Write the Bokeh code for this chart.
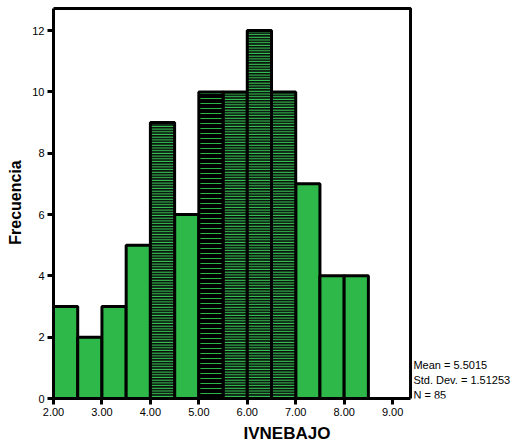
from bokeh.plotting import figure
from bokeh.models import ColumnDataSource, Range1d, FixedTicker, BoxAnnotation
from bokeh.core.properties import value
from bokeh.embed import file_html
from bokeh.resources import INLINE

# Data
bin_left = [2.0, 2.5, 3.0, 3.5, 4.0, 4.5, 5.0, 5.5, 6.0, 6.5, 7.0, 7.5, 8.0]
bin_right = [2.5, 3.0, 3.5, 4.0, 4.5, 5.0, 5.5, 6.0, 6.5, 7.0, 7.5, 8.0, 8.5]
counts = [3, 2, 3, 5, 9, 6, 10, 10, 12, 10, 7, 4, 4]
hatched = [False, False, False, False, True, False, "dense", True, True, True, False, False, False]
x_ticks = [2, 3, 4, 5, 6, 7, 8, 9]
x_tick_labels = ["2.00", "3.00", "4.00", "5.00", "6.00", "7.00", "8.00", "9.00"]
y_ticks = [0, 2, 4, 6, 8, 10, 12]
stats_lines = ["Mean = 5.5015", "Std. Dev. = 1.51253", "N = 85"]
stats_y = [1.08, 0.6, 0.12]
stats_x = 9.43

GREEN = "#2eb84a"
FONT = "Liberation Sans"
X_AXIS_END = 9.37
Y_AXIS_END = 12.72

p = figure(width=521, height=445, output_backend="svg", toolbar_location=None,
           x_range=Range1d(2.0, 11.64), y_range=Range1d(0, 12.785),
           min_border_left=53, min_border_right=1, min_border_top=6, min_border_bottom=47)
p.xgrid.visible = False
p.ygrid.visible = False
p.background_fill_color = "white"
p.border_fill_color = "white"
p.outline_line_color = None

plain = [i for i, h in enumerate(hatched) if h is False]
hat = [i for i, h in enumerate(hatched) if h is True]
dense = [i for i, h in enumerate(hatched) if h == "dense"]

def src(idx):
    return ColumnDataSource(dict(left=[bin_left[i] for i in idx], right=[bin_right[i] for i in idx],
                                 top=[counts[i] for i in idx], bottom=[0] * len(idx)))

p.quad(left="left", right="right", top="top", bottom="bottom", source=src(plain),
       fill_color=GREEN, line_color="black", line_width=3)
p.quad(left="left", right="right", top="top", bottom="bottom", source=src(hat),
       fill_color="#0a0a0a", hatch_pattern="horizontal_line", hatch_color="#36c956",
       hatch_scale=2.7, hatch_weight=1.5, line_color="black", line_width=3)
p.quad(left="left", right="right", top="top", bottom="bottom", source=src(dense),
       fill_color="black", hatch_pattern="horizontal_line", hatch_color="#2ab545",
       hatch_scale=5, hatch_weight=1, line_color="black", line_width=3)

# plot frame box (axes region only)
p.add_layout(BoxAnnotation(left=2.0, right=X_AXIS_END, bottom=0, top=Y_AXIS_END,
                           fill_alpha=0, line_color="black", line_width=3, line_alpha=1))

for ax in (p.xaxis[0], p.yaxis[0]):
    ax.axis_line_width = 3
    ax.axis_line_color = "black"
    ax.major_tick_line_width = 3
    ax.major_tick_line_color = "black"
    ax.major_tick_out = 6
    ax.major_tick_in = 0
    ax.minor_tick_line_color = None
    ax.major_label_text_font = FONT
    ax.major_label_text_font_size = "11px"
    ax.major_label_text_color = "black"
    ax.axis_label_text_font = FONT
    ax.axis_label_text_font_style = "bold"
    ax.axis_label_text_color = "black"

p.xaxis.bounds = (2.0, X_AXIS_END)
p.yaxis.bounds = (0, Y_AXIS_END)
p.xaxis.ticker = FixedTicker(ticks=x_ticks)
p.xaxis.major_label_overrides = {t: l for t, l in zip(x_ticks, x_tick_labels)}
p.yaxis.ticker = FixedTicker(ticks=y_ticks)
p.xaxis.axis_label = "IVNEBAJO"
p.yaxis.axis_label = "Frecuencia"
p.xaxis.axis_label_text_font_size = "17px"
p.yaxis.axis_label_text_font_size = "16px"
p.xaxis.major_label_standoff = 3
p.yaxis.major_label_standoff = 3
p.xaxis.axis_label_standoff = 5
p.yaxis.axis_label_standoff = 5

stats_src = ColumnDataSource(dict(x=[stats_x] * len(stats_lines), y=stats_y, t=stats_lines))
p.text(x="x", y="y", text="t", source=stats_src, text_font=value(FONT),
       text_font_size="11px", text_baseline="middle", text_align="left", text_color="black")

open("out.html", "w").write(file_html(p, INLINE))
